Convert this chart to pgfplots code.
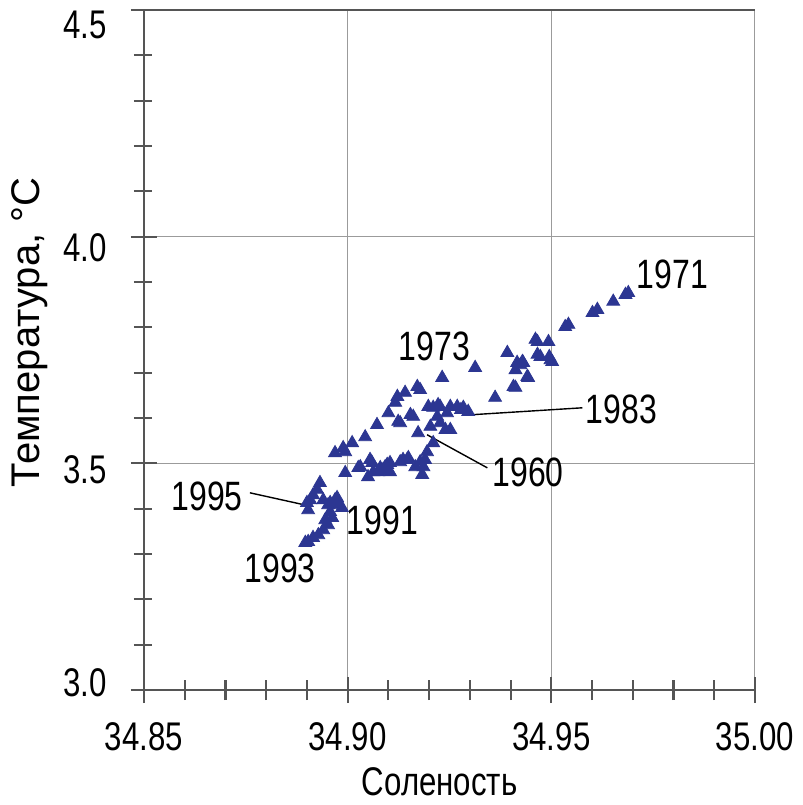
\documentclass[border=0pt]{standalone}
\usepackage{fontspec}
\setmainfont{Liberation Sans}[FakeStretch=0.78]
\newfontfamily\widefont{Liberation Sans}
\usepackage{pgfplots}
\pgfplotsset{compat=1.18}

\definecolor{markblue}{RGB}{44,54,146}
\definecolor{axisgray}{RGB}{85,85,85}
\definecolor{gridgray}{RGB}{155,155,155}

\tikzset{
  yr/.style={font=\fontsize{20.5}{24}\selectfont, inner sep=0pt, anchor=center},
  tk/.style={axisgray, line width=1.1pt},
}
% vertical tick label placed with its baseline offset from the tick
\newcommand{\ylab}[2]{\raisebox{#1}[0pt][0pt]{#2}}

% salinity / temperature observations
\pgfplotstableread{
S T
34.9689 3.876
34.9682 3.872
34.9652 3.857
34.9613 3.839
34.9601 3.832
34.9542 3.806
34.9534 3.801
34.9493 3.768
34.9461 3.773
34.9466 3.740
34.9473 3.735
34.9498 3.728
34.9495 3.735
34.9502 3.724
34.9431 3.722
34.9424 3.717
34.9412 3.706
34.9416 3.722
34.9429 3.724
34.9443 3.689
34.9407 3.669
34.9392 3.744
34.9466 3.768
34.9441 3.691
34.9412 3.667
34.9362 3.645
34.9313 3.711
34.9232 3.689
34.9171 3.669
34.9141 3.656
34.9122 3.647
34.9117 3.634
34.9100 3.611
34.9072 3.585
34.9043 3.558
34.9011 3.545
34.8989 3.534
34.8969 3.523
34.9178 3.662
34.9124 3.592
34.9161 3.603
34.9154 3.607
34.9129 3.589
34.9198 3.625
34.9210 3.623
34.9227 3.625
34.9252 3.625
34.9269 3.625
34.9284 3.623
34.9296 3.614
34.9244 3.611
34.9220 3.603
34.9227 3.589
34.9203 3.581
34.9252 3.574
34.9173 3.567
34.9210 3.545
34.9195 3.525
34.9190 3.508
34.9186 3.492
34.9183 3.475
34.9222 3.629
34.9278 3.618
34.9240 3.574
34.9146 3.508
34.9129 3.503
34.9104 3.501
34.9092 3.492
34.9080 3.490
34.9060 3.501
34.9063 3.481
34.9050 3.470
34.9031 3.492
34.8994 3.479
34.9055 3.508
34.9097 3.497
34.9149 3.512
34.9166 3.492
34.9178 3.503
34.9075 3.481
34.9104 3.481
34.9136 3.508
34.9087 3.486
34.9026 3.490
34.8932 3.457
34.8925 3.442
34.8915 3.430
34.8908 3.419
34.8900 3.413
34.8903 3.397
34.8940 3.419
34.8957 3.413
34.8969 3.419
34.8977 3.413
34.8986 3.402
34.8957 3.393
34.8962 3.380
34.8952 3.364
34.8940 3.353
34.8928 3.342
34.8915 3.336
34.8903 3.327
34.8896 3.325
34.8974 3.424
34.8977 3.408
34.8952 3.408
34.8945 3.375
34.8994 3.525
}\obsdata

\begin{document}
\begin{tikzpicture}
\useasboundingbox (-72pt,-57.5pt) rectangle (329.5pt,345pt);
\begin{axis}[
  at={(0,0)}, anchor=south west,
  scale only axis, width=305.5pt, height=340pt,
  xmin=34.85, xmax=35.00, ymin=3.0, ymax=4.5,
  xtick={34.85,34.90,34.95,35.00},
  ytick={3.0,3.5,4.0,4.5},
  yticklabels={\ylab{-3.2pt}{3.0},\ylab{-10.2pt}{3.5},\ylab{-12.2pt}{4.0},\ylab{-14.2pt}{4.5}},
  axis line style={draw=none},
  xtick pos=bottom, ytick pos=left,
  major tick length=0pt,
  grid=major,
  major grid style={gridgray, line width=0.5pt},
  font=\fontsize{20}{24}\selectfont,
  /pgf/number format/assume math mode=true,
  x tick label style={inner sep=0pt, anchor=north, yshift=-16pt,
    /pgf/number format/.cd, fixed, fixed zerofill, precision=2, 1000 sep={}},
  y tick label style={inner sep=0pt, anchor=east, xshift=-18.5pt},
  xlabel={Соленость},
  ylabel={Температура, °C},
  xlabel style={at={(axis description cs:0.484,-0.1353)}, anchor=center, inner sep=0pt},
  ylabel style={at={(axis description cs:-0.1866,0.526)}, anchor=center, inner sep=0pt,
    font=\widefont\fontsize{20}{24}\selectfont},
  clip=false,
]
% frame: thin grey right edge, dark top, heavier left and bottom
\draw[gridgray, line width=0.5pt] (axis cs:35.00,3.0) -- (axis cs:35.00,4.5);
\draw[axisgray, line width=0.8pt] (axis cs:34.85,4.5) -- (axis cs:35.00,4.5);
\draw[axisgray, line width=1.1pt] (axis cs:34.85,4.5) -- (axis cs:34.85,3.0) -- (axis cs:35.00,3.0);

\addplot[only marks, mark=triangle*, mark size=3.7pt,
  mark options={fill=markblue, draw=markblue}] table[x=S, y=T] {\obsdata};

% year annotations with leader lines
\node[yr] at (axis cs:34.9797,3.916) {1971};
\node[yr] at (axis cs:34.9213,3.757) {1973};
\node[yr] at (axis cs:34.9672,3.618) {1983};
\draw[black, line width=0.7pt] (axis cs:34.9301,3.607) -- (axis cs:34.9576,3.6225);
\node[yr] at (axis cs:34.9443,3.481) {1960};
\draw[black, line width=0.7pt] (axis cs:34.9195,3.563) -- (axis cs:34.9343,3.490);
\node[yr] at (axis cs:34.8655,3.426) {1995};
\draw[black, line width=0.7pt] (axis cs:34.876,3.435) -- (axis cs:34.8896,3.408);
\node[yr] at (axis cs:34.9085,3.375) {1991};
\node[yr] at (axis cs:34.8834,3.269) {1993};
\end{axis}

% tick marks crossing both axes (0.01 salinity = 20.3667pt, 0.1 degC = 22.6667pt)
\foreach \k in {0,5,10,15}{
  \draw[tk] (\k*20.3667pt,-6.5pt) -- (\k*20.3667pt,6.5pt);
  \draw[tk] (-6.5pt,\k*22.6667pt) -- (6.5pt,\k*22.6667pt);}
\foreach \k in {1,2,3,4,6,7,8,9,11,12,13,14}{
  \draw[tk] (\k*20.3667pt,-5pt) -- (\k*20.3667pt,5pt);
  \draw[tk] (-5pt,\k*22.6667pt) -- (4pt,\k*22.6667pt);}
\end{tikzpicture}
\end{document}
